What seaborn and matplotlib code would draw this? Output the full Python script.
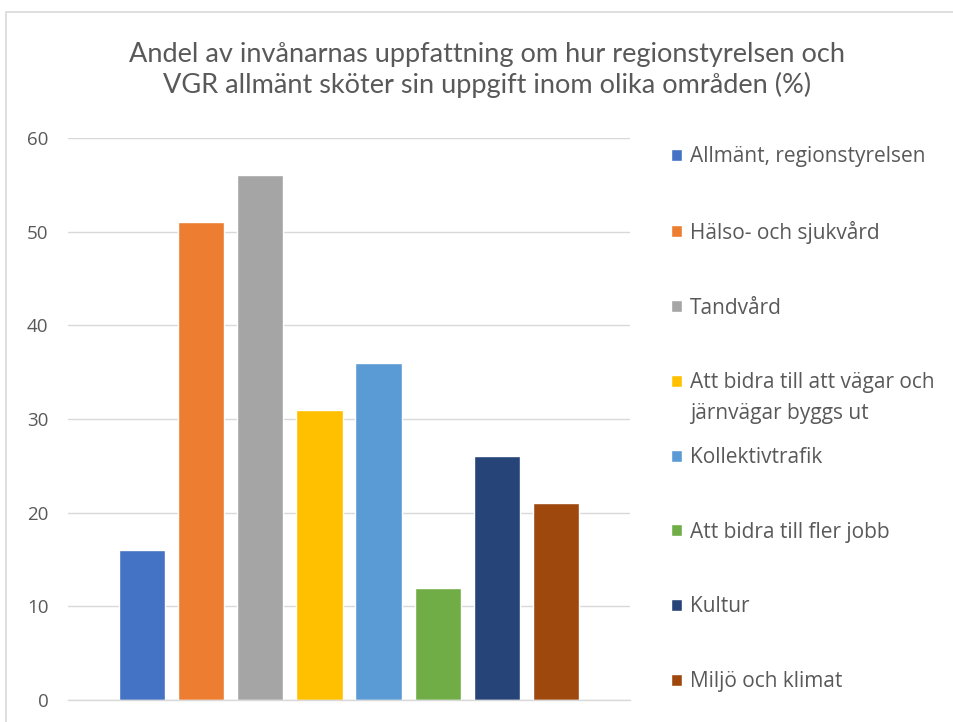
import matplotlib
matplotlib.use("Agg")
import matplotlib.pyplot as plt
import seaborn as sns
import pandas as pd
from matplotlib.patches import Rectangle

# Data
categories = [
    "Allmänt, regionstyrelsen",
    "Hälso- och sjukvård",
    "Tandvård",
    "Att bidra till att vägar och järnvägar byggs ut",
    "Kollektivtrafik",
    "Att bidra till fler jobb",
    "Kultur",
    "Miljö och klimat",
]
legend_lines = [
    ["Allmänt, regionstyrelsen"],
    ["Hälso- och sjukvård"],
    ["Tandvård"],
    ["Att bidra till att vägar och", "järnvägar byggs ut"],
    ["Kollektivtrafik"],
    ["Att bidra till fler jobb"],
    ["Kultur"],
    ["Miljö och klimat"],
]
values = [16, 51, 56, 31, 36, 12, 26, 21]
colors = ["#4472C4", "#ED7D31", "#A5A5A5", "#FFC000",
          "#5B9BD5", "#70AD47", "#264478", "#9E480E"]
yticks = [0, 10, 20, 30, 40, 50, 60]
title = ("Andel av invånarnas uppfattning om hur regionstyrelsen och\n"
         "VGR allmänt sköter sin uppgift inom olika områden (%)")

sns.set_theme(style="white")
plt.rcParams["font.family"] = ["Open Sans", "DejaVu Sans"]

TEXT = "#595959"
df = pd.DataFrame({"grupp": [""] * len(categories),
                   "Område": categories,
                   "Andel": values})

fig = plt.figure(figsize=(9.54, 7.22), dpi=100)
fig.patch.set_facecolor("white")
ax = fig.add_axes([68 / 954, 1 - 700 / 722, (630 - 68) / 954, (700 - 138) / 722])

sns.barplot(data=df, x="grupp", y="Andel", hue="Område", hue_order=categories,
            palette=colors, saturation=1, width=0.84, gap=0.22, ax=ax,
            legend=True, errorbar=None)

ax.set_xlim(-0.5, 0.5)
ax.set_ylim(0, 60)
ax.set_yticks(yticks)
ax.set_yticklabels([str(t) for t in yticks])
ax.set_xticks([])
ax.set_xlabel("")
ax.set_ylabel("")
ax.grid(axis="y", color="#D9D9D9", linewidth=1)
ax.set_axisbelow(True)
for s in ["top", "right", "left"]:
    ax.spines[s].set_visible(False)
ax.spines["bottom"].set_color("#D9D9D9")
ax.spines["bottom"].set_linewidth(1)
ax.tick_params(axis="y", length=0, pad=14, labelsize=13.5, labelcolor=TEXT)

handles, _ = ax.get_legend_handles_labels()
first_lines = [lines[0] for lines in legend_lines]
leg = ax.legend(handles, first_lines, loc="upper left",
                bbox_to_anchor=(671 / 954, 1 - 146 / 722),
                bbox_transform=fig.transFigure,
                frameon=False, fontsize=15, labelcolor=TEXT,
                handlelength=0.52, handleheight=0.52, handletextpad=0.4,
                labelspacing=2.58, borderpad=0, borderaxespad=0)

fig.text(0.511, 1 - 70 / 722, title, ha="center", va="center",
         fontsize=19.5, color=TEXT, family=["Lato", "DejaVu Sans"],
         linespacing=1.22)

# continuation lines of multi-line legend labels
fig.canvas.draw()
renderer = fig.canvas.get_renderer()
for txt, lines in zip(leg.get_texts(), legend_lines):
    if len(lines) > 1:
        bb = txt.get_window_extent(renderer)
        for k, extra in enumerate(lines[1:], start=1):
            fig.text(bb.x0 / fig.bbox.width,
                     (bb.y0 - 31 * k) / fig.bbox.height,
                     extra, ha="left", va="bottom", fontsize=15, color=TEXT)

# chart frame
fig.patches.append(Rectangle((6 / 954, -0.1), 1.2, 1 - 12 / 722 + 0.1,
                             transform=fig.transFigure, fill=False,
                             edgecolor="#D9D9D9", linewidth=1.2))

fig.savefig("out.png", dpi=100)
